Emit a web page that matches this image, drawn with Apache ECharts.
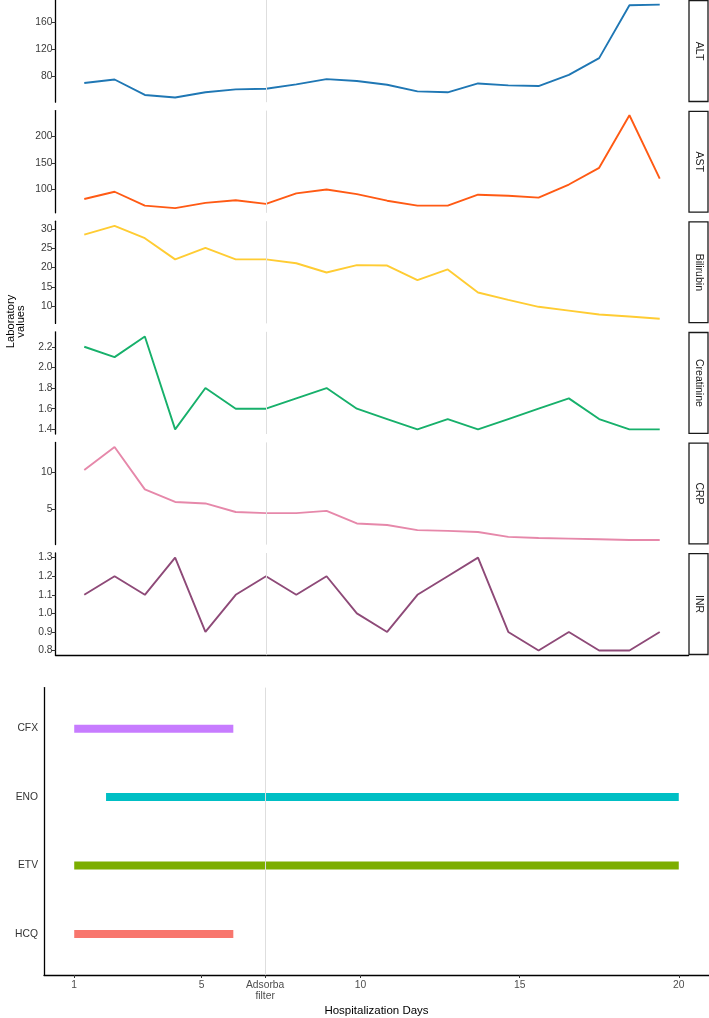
<!DOCTYPE html>
<html>
<head>
<meta charset="utf-8">
<script src="https://cdn.jsdelivr.net/npm/echarts@6/dist/echarts.min.js"></script>
<style>
html,body{margin:0;padding:0;background:#fff;}
#c{width:709px;height:1018px;}
</style>
</head>
<body>
<div id="c"></div>
<script>
// ---- data ----
const days = [1,2,3,4,5,6,7,8,9,10,11,12,13,14,15,16,17,18,19,20];
const labNames = ['ALT','AST','Bilirubin','Creatinine','CRP','INR'];
const alt  = [70.5,75.7,53,49.2,56.9,61.2,62.2,68.5,76.2,73.4,68,58.3,56.9,69.9,67,66.1,82.5,107,184.5,185.4];
const ast  = [81.3,95,68.7,63.8,73.8,78.8,71.9,91.9,99.4,90.5,78,68.7,68.7,89.4,87.5,83.8,108.8,140.6,240.6,120];
const bili = [28.5,30.8,27.6,22.1,25.1,22.1,22.1,21.1,18.7,20.6,20.5,16.7,19.5,13.5,11.6,9.8,8.8,7.8,7.3,6.7];
const crea = [2.2,2.1,2.3,1.4,1.8,1.6,1.6,1.7,1.8,1.6,1.5,1.4,1.5,1.4,1.5,1.6,1.7,1.5,1.4,1.4];
const crp  = [10.3,13.4,7.7,6.0,5.8,4.65,4.5,4.5,4.8,3.1,2.9,2.2,2.1,1.95,1.3,1.15,1.06,0.97,0.88,0.88];
const inr  = [1.1,1.2,1.1,1.3,0.9,1.1,1.2,1.1,1.2,1.0,0.9,1.1,1.2,1.3,0.9,0.8,0.9,0.8,0.8,0.9];

const altTicks  = [80,120,160];
const astTicks  = [100,150,200];
const biliTicks = [10,15,20,25,30];
const creaTicks = [1.4,1.6,1.8,2.0,2.2];
const crpTicks  = [5,10];
const inrTicks  = [0.8,0.9,1.0,1.1,1.2,1.3];
const tickDecimals = [0,0,0,1,0,1];

const drugs      = ['HCQ','ETV','ENO','CFX'];   // bottom to top
const drugStart  = [1,1,2,1];
const drugEnd    = [6,20,20,6];

const filterDay  = 7;
const xTicks      = [1,5,7,10,15,20];
const xTickLabels = ['1','5','Adsorba\nfilter','10','15','20'];

// ---- styles ----
const labColors  = ['#1F77B4','#FF5A14','#FFCC33','#17B06B','#E688AA','#8E4A78'];
const drugColors = ['#F8766D','#7CAE00','#00BFC4','#C77CFF'];
const labValues = [alt,ast,bili,crea,crp,inr];
const labTicks  = [altTicks,astTicks,biliTicks,creaTicks,crpTicks,inrTicks];

const FONT = '"Liberation Sans", Arial, sans-serif';
const panelTops = [0,110.6,221.2,331.8,442.4,553];
const panelH = 102.2;
const topLeft = 55.5, topRight = 20.5;
const stripX = 689, stripW = 19;

const chart = echarts.init(document.getElementById('c'), null, {renderer:'canvas'});

const grids = [], xAxes = [], yAxes = [], series = [], graphics = [];
const vline = {
  silent:true, symbol:['none','none'], label:{show:false},
  lineStyle:{color:'#dedede', width:1, type:'solid'},
  data:[{xAxis:filterDay}]
};

labNames.forEach((name,i)=>{
  const vals = labValues[i];
  const mn = Math.min(...vals), mx = Math.max(...vals);
  const pad = (mx-mn)*0.05;
  grids.push({left:topLeft, right:topRight, top:panelTops[i], height:panelH});
  xAxes.push({
    type:'value', gridIndex:i, min:0.05, max:20.95,
    axisLine:{show:i===5, lineStyle:{color:'#000', width:1.3}},
    axisTick:{show:false}, axisLabel:{show:false}, splitLine:{show:false}
  });
  const dec = tickDecimals[i];
  yAxes.push({
    type:'value', gridIndex:i, min:mn-pad, max:mx+pad,
    axisLine:{show:true, onZero:false, lineStyle:{color:'#000', width:1.3}},
    axisTick:{show:true, length:3.5, customValues:labTicks[i], lineStyle:{color:'#333', width:1}},
    axisLabel:{show:true, customValues:labTicks[i], margin:3, fontSize:10.3, fontFamily:FONT, color:'#3a3a3a',
      formatter:(v)=>Number(v).toFixed(dec)},
    splitLine:{show:false}
  });
  series.push({
    type:'line', xAxisIndex:i, yAxisIndex:i, symbol:'none', silent:true,
    data: days.map((d,k)=>[d, vals[k]]),
    lineStyle:{color:labColors[i], width:1.9}, itemStyle:{color:labColors[i]},
    markLine: vline, z:3
  });
  // strip
  graphics.push({type:'rect', shape:{x:stripX, y:panelTops[i]+0.7, width:stripW, height:panelH-1.4},
    style:{fill:'#fff', stroke:'#1a1a1a', lineWidth:1.3}, z:10});
  graphics.push({type:'text', x:stripX+stripW/2, y:panelTops[i]+panelH/2, rotation:-Math.PI/2,
    style:{text:name, align:'center', verticalAlign:'middle', fontSize:10.5, fontFamily:FONT, fill:'#1a1a1a'}, z:11});
});

// bottom panel
const bi = 6;
grids.push({left:44, right:0, top:687.6, height:287.4});
xAxes.push({
  type:'value', gridIndex:bi, min:0.05, max:20.95,
  name:'Hospitalization Days', nameLocation:'middle', nameGap:30,
  nameTextStyle:{fontSize:11.5, fontFamily:FONT, color:'#000'},
  axisLine:{show:true, onZero:false, lineStyle:{color:'#000', width:1.3}},
  axisTick:{show:true, length:3, customValues:xTicks, lineStyle:{color:'#333', width:1}},
  axisLabel:{show:true, customValues:xTicks, margin:5, fontSize:10.3, lineHeight:11, fontFamily:FONT, color:'#4d4d4d',
    formatter:(v)=>{const k = xTicks.indexOf(Math.round(v)); return k>=0 ? xTickLabels[k] : '';}},
  splitLine:{show:false}
});
yAxes.push({
  type:'value', gridIndex:bi, min:-0.6, max:drugs.length-1+0.6,
  axisLine:{show:true, onZero:false, lineStyle:{color:'#000', width:1.3}},
  axisTick:{show:false},
  axisLabel:{show:true, customValues:drugs.map((d,k)=>k), margin:6, fontSize:10.3, fontFamily:FONT, color:'#333',
    formatter:(v)=>drugs[Math.round(v)]},
  splitLine:{show:false}
});
drugs.forEach((d,k)=>{
  series.push({
    type:'line', xAxisIndex:bi, yAxisIndex:bi, symbol:'none', silent:true,
    data:[[drugStart[k], k],[drugEnd[k], k]],
    lineStyle:{color:drugColors[k], width:8, cap:'butt'}, itemStyle:{color:drugColors[k]},
    markLine: k===0 ? vline : undefined, z:3
  });
});

// y-axis title
graphics.push({type:'text', x:16, y:321.5, rotation:Math.PI/2,
  style:{text:'Laboratory\nvalues', align:'center', verticalAlign:'middle', fontSize:11.2, lineHeight:10, fontFamily:FONT, fill:'#000'}});

chart.setOption({
  animation:false,
  backgroundColor:'#fff',
  grid:grids, xAxis:xAxes, yAxis:yAxes, series:series, graphic:graphics
});
</script>
</body>
</html>
